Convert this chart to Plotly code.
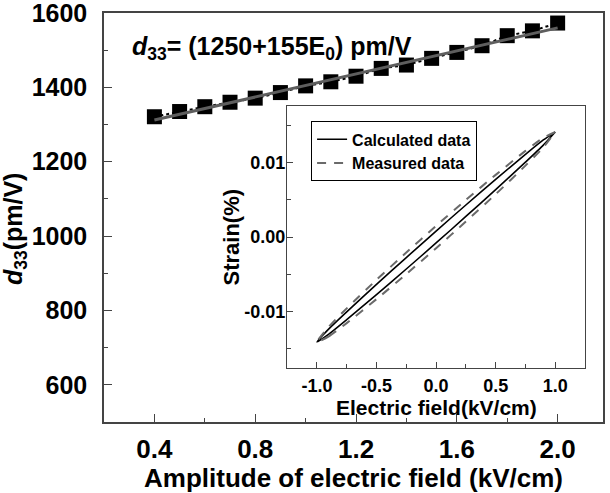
import plotly.graph_objects as go

# ---- main data ----
amp_x = [0.4, 0.5, 0.6, 0.7, 0.8, 0.9, 1.0, 1.1, 1.2, 1.3, 1.4, 1.5, 1.6, 1.7, 1.8, 1.9, 2.0]
d33_vals = [1321, 1335, 1348, 1360, 1371, 1386, 1404, 1415, 1430, 1451, 1460, 1478, 1494, 1512, 1539, 1552, 1573]
fit_x = [0.4, 2.0]
fit_y = [1312, 1560]

main_xticks = [0.4, 0.8, 1.2, 1.6, 2.0]
main_xticklabels = ["0.4", "0.8", "1.2", "1.6", "2.0"]
main_yticks = [600, 800, 1000, 1200, 1400, 1600]

# ---- inset data (strain loops) ----
loop_E = [-1.0, -0.9, -0.75, -0.5, -0.25, 0.0, 0.25, 0.5, 0.75, 0.9, 1.0]
calc_rising = [-0.0141, -0.01304, -0.0111, -0.00774, -0.0043, -0.0008, 0.00276, 0.00636, 0.01005, 0.01234, 0.0141]
calc_falling = [-0.0141, -0.01234, -0.01005, -0.00636, -0.00276, 0.0008, 0.0043, 0.00774, 0.0111, 0.01304, 0.0141]
meas_rising = [-0.0141, -0.01334, -0.01157, -0.00835, -0.00498, -0.0015, 0.00208, 0.00575, 0.00959, 0.01204, 0.0141]
meas_falling = [-0.0141, -0.01204, -0.00959, -0.00575, -0.00208, 0.0015, 0.00498, 0.00835, 0.01157, 0.01334, 0.0141]

inset_xticks = [-1.0, -0.5, 0.0, 0.5, 1.0]
inset_xticklabels = ["-1.0", "-0.5", "0.0", "0.5", "1.0"]
inset_yticks = [-0.01, 0.0, 0.01]
inset_yticklabels = ["-0.01", "0.00", "0.01"]

FONT = "Arial, Liberation Sans, sans-serif"
AXC = "#444444"

fig = go.Figure()

fig.add_trace(go.Scatter(
    x=amp_x, y=d33_vals, mode="lines+markers",
    marker=dict(symbol="square", size=15, color="black"),
    line=dict(color="black", width=2, dash="dot"),
    showlegend=False, xaxis="x", yaxis="y"))
fig.add_trace(go.Scatter(
    x=fit_x, y=fit_y, mode="lines",
    line=dict(color="#5e5e5e", width=3),
    showlegend=False, xaxis="x", yaxis="y"))

fig.add_trace(go.Scatter(
    x=loop_E + loop_E[::-1], y=calc_rising + calc_falling[::-1],
    mode="lines", name="Calculated data",
    line=dict(color="black", width=1.6, shape="spline", smoothing=0.6),
    xaxis="x2", yaxis="y2"))
fig.add_trace(go.Scatter(
    x=loop_E + loop_E[::-1], y=meas_rising + meas_falling[::-1],
    mode="lines", name="Measured data",
    line=dict(color="#6a6a6a", width=2, dash="9px,8px", shape="spline", smoothing=0.6),
    xaxis="x2", yaxis="y2"))

fig.update_layout(
    width=610, height=493,
    margin=dict(l=104, r=7, t=13, b=71, autoexpand=False),
    paper_bgcolor="white", plot_bgcolor="white",
    font=dict(family=FONT, color="black"),
    xaxis=dict(
        domain=[0, 1], range=[0.2, 2.18], automargin=False,
        tickvals=main_xticks, ticktext=main_xticklabels,
        ticks="inside", ticklen=8, tickwidth=1.3, tickcolor=AXC,
        minor=dict(tickvals=[0.6, 1.0, 1.4, 1.8], ticks="inside", ticklen=4, tickcolor=AXC),
        showline=True, linecolor=AXC, linewidth=1.5, mirror=True,
        showgrid=False, zeroline=False, ticklabeloverflow="allow",
        tickfont=dict(size=26, weight="bold"), ticklabelstandoff=3,
        title=dict(text="Amplitude of electric field (kV/cm)",
                   font=dict(size=26, weight="bold"), standoff=0),
    ),
    yaxis=dict(
        domain=[0, 1], range=[500, 1600], automargin=False,
        tickvals=main_yticks,
        ticks="inside", ticklen=8, tickwidth=1.3, tickcolor=AXC,
        minor=dict(dtick=100, ticks="inside", ticklen=4, tickcolor=AXC),
        showline=True, linecolor=AXC, linewidth=1.5, mirror=True,
        showgrid=False, zeroline=False, ticklabeloverflow="allow",
        tickfont=dict(size=25, weight="bold"), ticklabelstandoff=10,
    ),
    xaxis2=dict(
        domain=[0.367, 0.964], range=[-1.25, 1.25], anchor="y2", automargin=False,
        tickvals=inset_xticks, ticktext=inset_xticklabels,
        ticks="inside", ticklen=6, tickwidth=1.2, tickcolor=AXC,
        minor=dict(tickvals=[-0.75, -0.25, 0.25, 0.75], ticks="inside", ticklen=4, tickcolor=AXC),
        showline=True, linecolor=AXC, linewidth=1.3, mirror=True,
        showgrid=False, zeroline=False, ticklabeloverflow="allow",
        tickfont=dict(size=18, weight="bold"), ticklabelstandoff=1,
    ),
    yaxis2=dict(
        domain=[0.132, 0.7726], range=[-0.0176, 0.0176], anchor="x2", automargin=False,
        tickvals=inset_yticks, ticktext=inset_yticklabels,
        ticks="inside", ticklen=6, tickwidth=1.2, tickcolor=AXC,
        minor=dict(tickvals=[-0.015, -0.005, 0.005, 0.015], ticks="inside", ticklen=4, tickcolor=AXC),
        showline=True, linecolor=AXC, linewidth=1.3, mirror=True,
        showgrid=False, zeroline=False, ticklabeloverflow="allow",
        tickfont=dict(size=18, weight="bold"), ticklabelstandoff=-3,
    ),
    legend=dict(
        x=0.415, y=0.735, xanchor="left", yanchor="top",
        bgcolor="white", bordercolor="black", borderwidth=1,
        font=dict(size=16, weight="bold"),
        tracegroupgap=0, itemwidth=30,
    ),
    annotations=[
        dict(text="<i>d</i><sub>33</sub>= (1250+155E<sub>0</sub>) pm/V",
             xref="paper", yref="paper", x=0.053, y=0.915, xanchor="left", yanchor="middle",
             showarrow=False, font=dict(size=25, weight="bold")),
        dict(text="<i>d</i><sub>33</sub>(pm/V)", textangle=-90,
             xref="paper", yref="paper", x=-0.1784, y=0.474, xanchor="center", yanchor="middle",
             showarrow=False, font=dict(size=25, weight="bold")),
        dict(text="Strain(%)", textangle=-90,
             xref="paper", yref="paper", x=0.2565, y=0.4535, xanchor="center", yanchor="middle",
             showarrow=False, font=dict(size=22, weight="bold")),
        dict(text="Electric field(kV/cm)",
             xref="paper", yref="paper", x=0.666, y=0.036, xanchor="center", yanchor="middle",
             showarrow=False, font=dict(size=21, weight="bold")),
    ],
)

fig.write_html("out.html", post_script="document.body.style.margin='0px';",
               config={"displayModeBar": False})
